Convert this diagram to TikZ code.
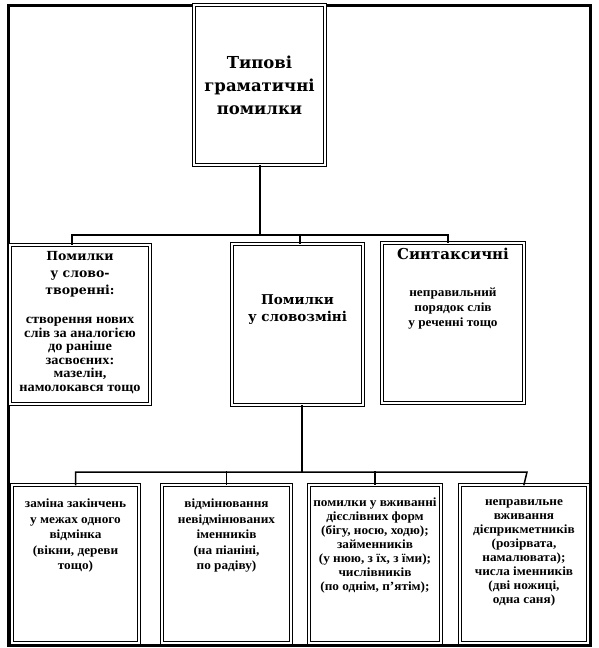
\documentclass[tikz,border=0pt]{standalone}
\usepackage{fontspec}
\setmainfont{Liberation Serif}
\newfontfamily\headfont{DejaVu Serif}
\newfontfamily\bodyfont[FakeStretch=1.06]{Liberation Serif}
\begin{document}
\begin{tikzpicture}[x=1pt,y=-1pt,
  box/.style={draw, double, double distance=2.2pt, line width=0.9pt, fill=white, inner sep=0pt},
  conn/.style={line width=1.5pt, line cap=rect},
  frame/.style={line width=3pt},
  head/.style={font=\headfont\bfseries\fontsize{12.5}{17}\selectfont, align=center, inner sep=0pt},
  body/.style={font=\bodyfont\bfseries\fontsize{12.5}{14.5}\selectfont, align=center, inner sep=0pt}]
\useasboundingbox (0,0) rectangle (598,648);
\draw[frame] (8,5) rectangle (590,645);
% connectors
\coordinate (busA) at (448,235);
\coordinate (tickL) at (72,235);
\coordinate (tickM) at (300,235);
\coordinate (tickT) at (260,235);
\coordinate (busB) at (527,472);
\coordinate (midB) at (302,472);
% boxes
\node[box, minimum width=131pt, minimum height=160pt] (top) at (259.5,85) {};
\node[box, minimum width=140pt, minimum height=159pt] (L) at (80,324.5) {};
\node[box, minimum width=131pt, minimum height=161pt] (M) at (297.5,324.5) {};
\node[box, minimum width=142pt, minimum height=160pt] (R) at (453,323) {};
\node[box, minimum width=127pt, minimum height=158pt] (B1) at (75.5,564) {};
\node[box, minimum width=129pt, minimum height=158pt] (B2) at (226.5,564) {};
\node[box, minimum width=132pt, minimum height=158pt] (B3) at (375,564) {};
\node[box, minimum width=128pt, minimum height=158pt] (B4) at (524,564) {};
% upper tree
\draw[conn] (tickT |- top.south) -- (tickT);
\draw[conn] (tickL |- L.north) -- (tickL) -- (busA) -- (busA |- R.north);
\draw[conn] (tickM) -- (tickM |- M.north);
% lower tree
\draw[conn] (midB |- M.south) -- (midB);
\draw[conn] (B1.north) -- (B1.north |- busB) -- (busB) -- (B4.north);
\draw[conn] (B2.north |- busB) -- (B2.north);
\draw[conn] (B3.north |- busB) -- (B3.north);
% texts
\node[head, font=\headfont\bfseries\fontsize{16.5}{23}\selectfont] (ttop) at (259.5,85) {Типові\\граматичні\\помилки};
\node[head, anchor=north] (tLh) at (80,251) {Помилки\\у слово-\\творенні:};
\node[body, anchor=north, font=\bodyfont\bfseries\fontsize{13.5}{13.6}\selectfont] (tLb) at (80,317) {створення нових\\слів за аналогією\\до раніше\\засвоєних:\\мазелін,\\намолокався тощо};
\node[head, font=\headfont\bfseries\fontsize{13.5}{17}\selectfont] (tM) at (297.5,310) {Помилки\\у словозміні};
\node[head, anchor=north, font=\headfont\bfseries\fontsize{15}{17}\selectfont] (tRh) at (453,248) {Синтаксичні};
\node[body, anchor=north, font=\bodyfont\bfseries\fontsize{12.5}{15}\selectfont] (tRb) at (453,288) {неправильний\\порядок слів\\у реченні тощо};
\node[body, anchor=north, font=\bodyfont\bfseries\fontsize{12.5}{15.5}\selectfont] (t1) at (75.5,499) {заміна закінчень\\у межах одного\\відмінка\\(вікни, дереви\\тощо)};
\node[body, anchor=north, font=\bodyfont\bfseries\fontsize{12.5}{15.5}\selectfont] (t2) at (226.5,499) {відмінювання\\невідмінюваних\\іменників\\(на піаніні,\\по радіву)};
\node[body, anchor=north, font=\bodyfont\bfseries\fontsize{12.5}{14}\selectfont] (t3) at (375,498) {помилки у вживанні\\дієслівних форм\\(бігу, носю, ходю);\\займенників\\(у нюю, з їх, з їми);\\числівників\\(по однім, п’ятім);};
\node[body, anchor=north, font=\bodyfont\bfseries\fontsize{12.5}{14}\selectfont] (t4) at (524,499) {неправильне\\вживання\\дієприкметників\\(розірвата,\\намалювата);\\числа іменників\\(дві ножиці,\\одна саня)};
\end{tikzpicture}
\end{document}
